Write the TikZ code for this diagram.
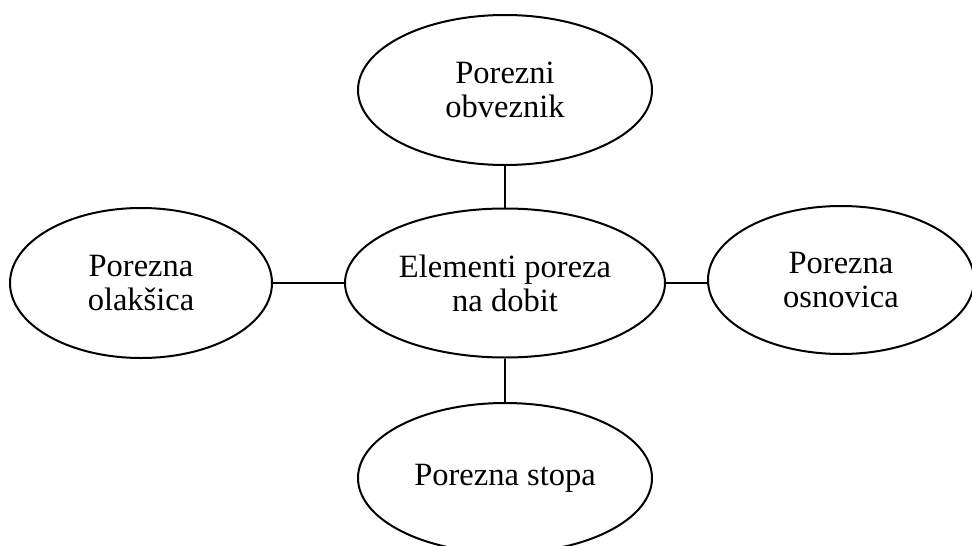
\documentclass[tikz,border=0pt]{standalone}
\usepackage{fontspec}
\setmainfont{Liberation Serif}
\usetikzlibrary{shapes.geometric}
\begin{document}
\begin{tikzpicture}[x=1pt,y=-1pt,
  oval/.style={draw, line width=2pt, ellipse, inner sep=0pt, align=center,
    font=\fontsize{32.5}{34}\selectfont},
  link/.style={line width=2pt}]
\useasboundingbox (0,0) rectangle (972,546);
\node[oval, minimum width=294pt, minimum height=150pt] (top) at (505,90) {Porezni\\obveznik};
\node[oval, minimum width=320pt, minimum height=149pt] (mid) at (505,283) {Elementi poreza\\na dobit};
\node[oval, minimum width=262pt, minimum height=150pt] (left) at (141,283) {Porezna\\olakšica};
\node[oval, minimum width=266pt, minimum height=148pt] (right) at (841,280) {Porezna\\osnovica};
\node[oval, minimum width=294pt, minimum height=150pt] (bot) at (505,478) {Porezna stopa};
\draw[link] (top.south) -- (top.south |- mid.north);
\draw[link] (mid.south) -- (mid.south |- bot.north);
\draw[link] (left.east) -- (mid.west);
\draw[link] (mid.east) -- (right.west |- mid.east);
\end{tikzpicture}
\end{document}
